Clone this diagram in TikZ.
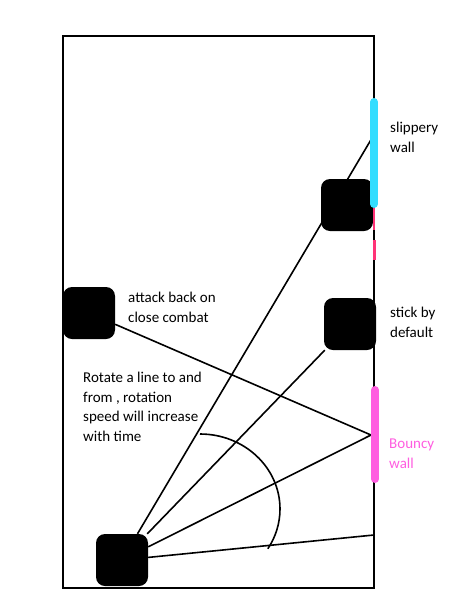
\documentclass[tikz,border=0pt]{standalone}
\usepackage{fontspec}
\setmainfont{Carlito}
\usetikzlibrary{backgrounds}
\definecolor{slipcol}{HTML}{33DDFF}
\definecolor{bouncecol}{HTML}{FF5EE0}
\definecolor{stickcol}{HTML}{FF3377}
\begin{document}
\begin{tikzpicture}[x=1pt,y=-1pt]
        \tikzset{bot/.style = {fill=black,rounded corners=9pt,minimum size=52pt,inner sep=0pt}}
        \tikzset{ray/.style = {line width=1.6pt}}
        \tikzset{wall/.style = {line width=8pt,line cap=round}}
        \tikzset{lbl/.style = {anchor=north west,inner sep=0pt,align=left,font=\fontsize{15}{19.5}\selectfont}}
        \useasboundingbox (0,0) rectangle (455,600);
        % arena
        \draw[line width=2pt] (63,36) rectangle (374,588);
        % bots
        \node[bot] (top)  at (347,205) {};
        \node[bot] (left) at (89,313)  {};
        \node[bot] (mid)  at (350,324) {};
        \node[bot] (me)   at (122,560) {};
        % wall points
        \coordinate (slip) at (372,138);
        \coordinate (hit)  at (371,435);
        \coordinate (edge) at (374,535);
        %rays
        \begin{scope}[on background layer]
        \draw[ray] (me) -- (slip);
        \draw[ray] (me) -- (mid);
        \draw[ray] (me) -- (hit);
        \draw[ray] (me) -- (edge);
        \draw[ray] (left) -- (hit);
        \end{scope}
        \draw[ray] (200,434) arc[start angle=90, end angle=-32, x radius=80pt, y radius=75pt];
        % walls
        \draw[wall,slipcol] (374,102) -- (374,204);
        \draw[wall,bouncecol] (375,390) -- (375,479);
        \draw[line width=2.5pt,stickcol] (374,208) -- (374,230);
        \draw[line width=3pt,stickcol] (374,240) -- (374,260);
        % labels
        \node[lbl] (lslip)   at (390,122) {slippery\\wall};
        \node[lbl] (lleft)   at (128,292) {attack back on\\close combat};
        \node[lbl] (lmid)    at (390,307) {stick by\\default};
        \node[lbl] (lrot)    at (83,372)  {Rotate a line to and\\from , rotation\\speed will increase\\with time};
        \node[lbl,bouncecol] (lbounce) at (389,439) {Bouncy\\wall};
\end{tikzpicture}
\end{document}
